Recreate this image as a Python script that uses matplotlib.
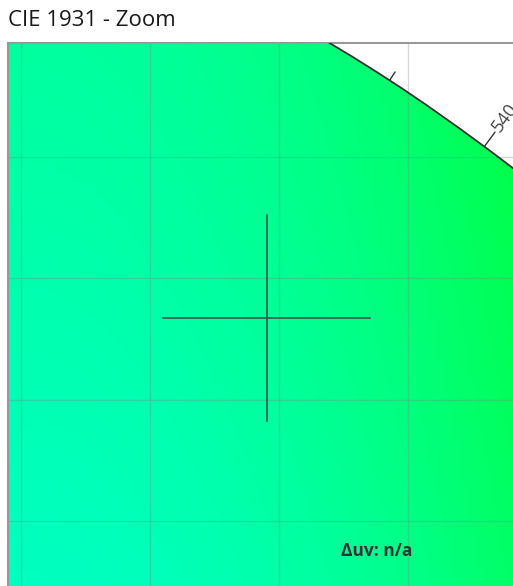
import numpy as np
import matplotlib
matplotlib.use("Agg")
import matplotlib.pyplot as plt
from matplotlib.path import Path
from matplotlib.patches import PathPatch

# spectral locus (CIE 1931 xy), 5 nm steps around the zoomed region
wavelengths = [510, 515, 520, 525, 530, 535, 540, 545, 550]
locus_x = [0.0139, 0.0389, 0.0743, 0.1142, 0.1547, 0.1929, 0.2296, 0.2658, 0.3016]
locus_y = [0.7502, 0.8120, 0.8338, 0.8262, 0.8059, 0.7816, 0.7543, 0.7243, 0.6923]

# measured point (crosshair) and its half size in xy units
target_x, target_y = 0.1452, 0.6835
cross_dx, cross_dy = 0.040, 0.0425

grid_x = [0.05, 0.10, 0.15, 0.20]
grid_y = [0.60, 0.65, 0.70, 0.75]
xlim = (0.04496, 0.2473)
ylim = (0.5674, 0.7970)


def smooth_locus(xs, ys):
    # Catmull-Rom through the points, drawn as cubic bezier segments
    p = np.column_stack([xs, ys])
    verts = [p[1]]
    codes = [Path.MOVETO]
    for i in range(1, len(p) - 2):
        c1 = p[i] + (p[i + 1] - p[i - 1]) / 6
        c2 = p[i + 1] - (p[i + 2] - p[i]) / 6
        verts += [c1, c2, p[i + 1]]
        codes += [Path.CURVE4] * 3
    return verts, codes


W, H = 513, 586
fig = plt.figure(figsize=(W / 100, H / 100), dpi=100)
# axes runs past the right/bottom edge of the figure (zoomed, cut-off view)
ax = fig.add_axes([8 / W, (H - 600) / H, (530 - 8) / W, (600 - 43) / H])
ax.set_xlim(*xlim)
ax.set_ylim(*ylim)
ax.set_xticks([])
ax.set_yticks([])
for side in ["right", "bottom"]:
    ax.spines[side].set_visible(False)
for side in ["left", "top"]:
    ax.spines[side].set_color("#999999")
    ax.spines[side].set_linewidth(1.5)

verts, codes = smooth_locus(locus_x, locus_y)

# chromaticity-like background, clipped to the inside of the locus
gx, gy = np.meshgrid(np.linspace(*xlim, 300), np.linspace(*ylim, 300))
blue = np.clip(0.68 - 9.7 * (gx - 0.05) ** 2 - 0.6 * (gy - 0.70), 0, 1)
rgb = np.dstack([np.zeros_like(gx), np.ones_like(gx), blue])
img = ax.imshow(rgb, extent=[*xlim, *ylim], origin="lower", aspect="auto",
                interpolation="bilinear", zorder=0)
clip_verts = verts + [(verts[-1][0], 0.4), (verts[0][0], 0.4), verts[0]]
clip_codes = codes + [Path.LINETO, Path.LINETO, Path.CLOSEPOLY]
clip = PathPatch(Path(clip_verts, clip_codes), transform=ax.transData,
                 facecolor="none", edgecolor="none")
ax.add_patch(clip)
img.set_clip_path(clip)

for v in grid_x:
    ax.axvline(v, color="#808080", alpha=0.3, lw=1, zorder=1)
for v in grid_y:
    ax.axhline(v, color="#808080", alpha=0.3, lw=1, zorder=1)

ax.add_patch(PathPatch(Path(verts, codes), facecolor="none", edgecolor="#333333",
                       lw=1.3, zorder=3))

# wavelength ticks, normal to the locus in display space
fig.canvas.draw()
disp = ax.transData.transform(np.column_stack([locus_x, locus_y]))
for i, wl in enumerate(wavelengths):
    if i == 0 or i == len(wavelengths) - 1:
        continue
    t = disp[i + 1] - disp[i - 1]
    t = t / np.hypot(*t)
    n = np.array([-t[1], t[0]])
    major = wl % 10 == 0
    length = 18 if major else 10
    ax.annotate("", xy=(locus_x[i], locus_y[i]),
                xytext=(n[0] * length * 0.72, n[1] * length * 0.72),
                textcoords="offset points",
                arrowprops=dict(arrowstyle="-", color="#333333", lw=1.0,
                                shrinkA=0, shrinkB=0),
                annotation_clip=True, zorder=4)
    if major:
        ang = np.degrees(np.arctan2(n[1], n[0]))
        off = (length + 2) * 0.72
        ax.annotate(str(wl), xy=(locus_x[i], locus_y[i]),
                    xytext=(n[0] * off, n[1] * off), textcoords="offset points",
                    rotation=ang, rotation_mode="anchor", ha="left", va="center",
                    fontsize=13, color="#444444", family="Open Sans",
                    annotation_clip=True, zorder=4)

# crosshair on the measured point
ax.plot([target_x - cross_dx, target_x + cross_dx], [target_y, target_y],
        color="#444444", lw=1.1, zorder=5)
ax.plot([target_x, target_x], [target_y - cross_dy, target_y + cross_dy],
        color="#444444", lw=1.1, zorder=5)

fig.text(8 / W, 1 - 20 / H, "CIE 1931 - Zoom", fontsize=16, family="Open Sans",
         color="#1a1a1a", ha="left", va="center")
fig.text(377 / W, 1 - 551 / H, "\u0394uv: n/a", fontsize=12.5, fontweight="bold",
         family="Open Sans", color="#333333", ha="center", va="center")

fig.savefig("out.png", dpi=100)
